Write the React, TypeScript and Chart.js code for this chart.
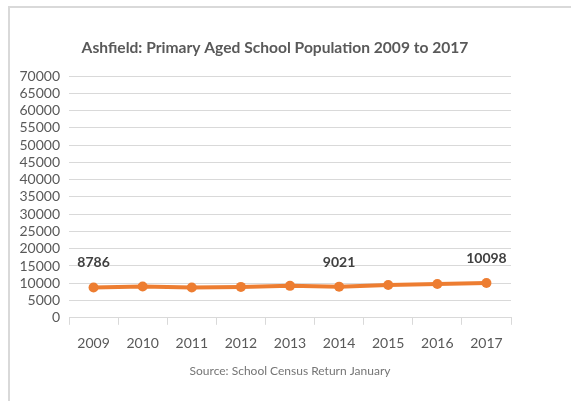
import React, { useEffect, useRef } from "react";
import { Chart, registerables } from "chart.js";

Chart.register(...registerables);

const titleText = "Ashfield: Primary Aged School Population 2009 to 2017";
const sourceText = "Source: School Census Return January";
const years = ["2009", "2010", "2011", "2012", "2013", "2014", "2015", "2016", "2017"];
const population = [8786, 9050, 8750, 8950, 9250, 9021, 9500, 9800, 10098];
const labelledIndices = [0, 5, 8];
const yMin = 0;
const yMax = 70000;
const yStep = 5000;

const FONT = "Lato, 'Open Sans', sans-serif";

const pointLabels = {
  id: "pointLabels",
  afterDatasetsDraw(chart: any) {
    const meta = chart.getDatasetMeta(0);
    const ctx = chart.ctx;
    ctx.save();
    ctx.font = `bold 14px ${FONT}`;
    ctx.fillStyle = "#404040";
    ctx.textAlign = "center";
    ctx.textBaseline = "middle";
    labelledIndices.forEach((i) => {
      const el = meta.data[i];
      if (!el) return;
      ctx.fillText(String(population[i]), el.x, el.y - 24.5);
    });
    ctx.restore();
  },
};

const chartTitle = {
  id: "chartTitle",
  afterDraw(chart: any) {
    const ctx = chart.ctx;
    ctx.save();
    ctx.font = `bold 15.6px ${FONT}`;
    ctx.fillStyle = "#595959";
    ctx.textAlign = "center";
    ctx.textBaseline = "middle";
    ctx.fillText(titleText, 275, 48);
    ctx.restore();
  },
};

export default function App() {
  const ref = useRef<HTMLCanvasElement | null>(null);

  useEffect(() => {
    if (!ref.current) return;
    const chart = new Chart(ref.current, {
      type: "line",
      data: {
        labels: years,
        datasets: [
          {
            data: population,
            borderColor: "#ED7D31",
            backgroundColor: "#ED7D31",
            borderWidth: 4,
            pointRadius: 5,
            pointBorderWidth: 0,
            pointBackgroundColor: "#ED7D31",
            tension: 0,
          },
        ],
      },
      options: {
        animation: false,
        responsive: false,
        maintainAspectRatio: false,
        devicePixelRatio: 1,
        layout: { padding: { left: 8, right: 60, top: 76, bottom: 19 } },
        plugins: {
          legend: { display: false },
          tooltip: { enabled: false },
          title: { display: false },
        },
        scales: {
          x: {
            offset: true,
            grid: {
              display: true,
              drawOnChartArea: false,
              drawTicks: true,
              tickLength: 7,
              color: "#d9d9d9",
              offset: true,
            },
            border: { display: true, color: "#d9d9d9" },
            ticks: {
              color: "#595959",
              font: { family: FONT, size: 14 },
              padding: 10,
              maxRotation: 0,
              autoSkip: false,
            },
            title: {
              display: true,
              text: sourceText,
              color: "#757575",
              font: { family: FONT, size: 12 },
              padding: { top: 2, bottom: 4 },
            },
          },
          y: {
            min: yMin,
            max: yMax,
            grid: { color: "#d9d9d9", drawTicks: false },
            border: { display: false },
            ticks: {
              stepSize: yStep,
              color: "#595959",
              font: { family: FONT, size: 14, lineHeight: 1 },
              padding: 9,
              autoSkip: false,
              callback: (value: any) => String(value),
            },
            afterFit(scale: any) {
              scale.width = 61;
            },
          },
        },
      },
      plugins: [pointLabels, chartTitle],
    });
    return () => chart.destroy();
  }, []);

  return (
    <div
      style={{
        position: "absolute",
        left: 0,
        top: 0,
        width: 571,
        height: 401,
        background: "#ffffff",
        overflow: "hidden",
      }}
    >
      <div
        style={{
          position: "absolute",
          left: 8,
          top: 6,
          right: 0,
          bottom: 0,
          borderTop: "2px solid #d9d9d9",
          borderLeft: "2px solid #d9d9d9",
        }}
      />
      <canvas
        ref={ref}
        width={571}
        height={401}
        style={{ position: "absolute", left: 0, top: 0, width: 571, height: 401 }}
      />
    </div>
  );
}
